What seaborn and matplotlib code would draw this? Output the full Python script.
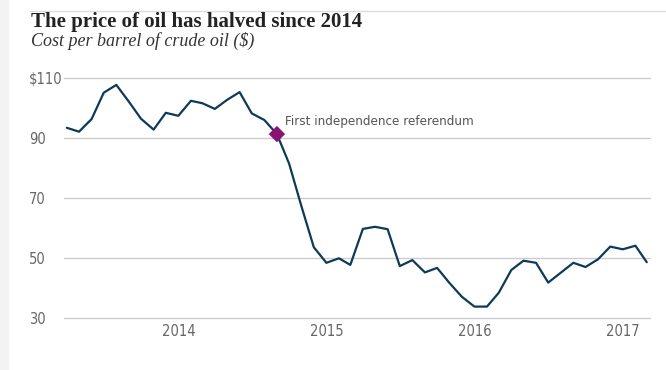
import numpy as np
import pandas as pd
import seaborn as sns
import matplotlib.pyplot as plt
from matplotlib import font_manager
from matplotlib.patches import Rectangle
from matplotlib.lines import Line2D

# monthly brent price, Apr 2013 - Mar 2017
months = pd.date_range("2013-04-01", periods=48, freq="MS")
price = [93.4, 92.1, 96.3, 105.1, 107.7, 102.1, 96.4, 92.8, 98.4,
         97.4, 102.4, 101.6, 99.7, 102.7, 105.3, 98.2, 96.0, 91.3, 81.5, 67.0, 53.6,
         48.4, 49.9, 47.7, 59.7, 60.4, 59.6, 47.3, 49.3, 45.2, 46.7, 41.6, 37.1,
         33.8, 33.8, 38.4, 46.0, 49.1, 48.4, 41.8, 45.1, 48.4, 47.0, 49.6, 53.8,
         52.9, 54.1, 48.6]
event_date = pd.Timestamp("2014-09-01")
event_label = "First independence referendum"
year_ticks = ["2014", "2015", "2016", "2017"]
y_ticks = [30, 50, 70, 90, 110]
y_labels = ["30", "50", "70", "90", "$110"]

df = pd.DataFrame({"month": months, "price": price})

sns.set_style("white")
# condensed sans if there is one, else Roboto
if any(f.name == "DejaVu Sans" and f.stretch == "condensed"
       for f in font_manager.fontManager.ttflist):
    cond = ["DejaVu Sans"]
    stretch = "condensed"
else:
    cond = ["Roboto", "DejaVu Sans"]
    stretch = "normal"
serif = ["Liberation Serif", "DejaVu Serif"]
plt.rcParams["font.family"] = cond
plt.rcParams["font.stretch"] = stretch

fig = plt.figure(figsize=(6.66, 3.70), dpi=100)
W, H = 666, 370
ax = fig.add_axes([64 / W, (H - 318) / H, (650 - 64) / W, 240 / H])

# page decoration
fig.patches.append(Rectangle((0, 0), 8 / W, 1, transform=fig.transFigure,
                             color="#f3f3f3", zorder=0))
fig.lines.append(Line2D([30 / W, 1], [1 - 10.5 / H, 1 - 10.5 / H],
                        transform=fig.transFigure, color="#dddddd", lw=1))

sns.lineplot(data=df, x="month", y="price", ax=ax, color="#0e3a58",
             linewidth=1.6, clip_on=False)

ev = df[df["month"] == event_date]
sns.scatterplot(data=ev, x="month", y="price", ax=ax, marker="D", s=70,
                color="#8a1474", edgecolor="none", zorder=5, clip_on=False)
ax.annotate(event_label, (event_date, ev["price"].iloc[0]),
            xytext=(6, 9), textcoords="offset points", fontsize=9.6,
            color="#555555", va="center", ha="left", family=cond,
            fontstretch=stretch)

ax.set_xlim(pd.Timestamp("2013-03-25"), pd.Timestamp("2017-03-09"))
ax.set_ylim(30, 110)
ax.set_xticks([pd.Timestamp(y + "-01-01") for y in year_ticks])
ax.set_xticklabels(year_ticks)
ax.set_yticks(y_ticks)
ax.set_yticklabels(y_labels)
ax.grid(axis="y", color="#cccccc", linewidth=1)
ax.grid(axis="x", visible=False)
for l in ax.get_ygridlines():
    l.set_clip_on(False)
for s in ax.spines.values():
    s.set_visible(False)
ax.tick_params(axis="both", length=0, labelsize=10.5, labelcolor="#666666")
ax.tick_params(axis="x", pad=4)
ax.tick_params(axis="y", pad=25)
for t in ax.get_yticklabels():
    t.set_horizontalalignment("left")
ax.set_xlabel("")
ax.set_ylabel("")

fig.text(31 / W, 1 - 27 / H, "The price of oil has halved since 2014",
         family=serif, fontweight="bold", fontsize=15, color="#222222",
         va="baseline")
fig.text(31 / W, 1 - 46 / H, "Cost per barrel of crude oil ($)",
         family=serif, style="italic", fontsize=13, color="#333333",
         va="baseline")

fig.savefig("out.png", dpi=100, facecolor="white")
